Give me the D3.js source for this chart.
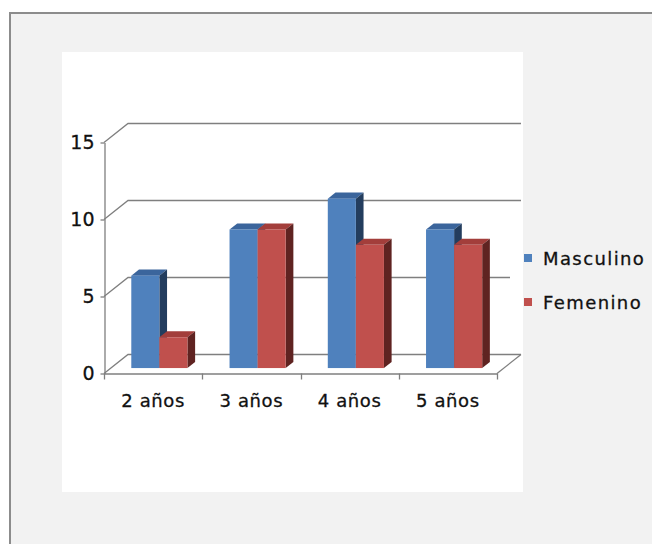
<!DOCTYPE html>
<html>
<head>
<meta charset="utf-8">
<script src="https://cdn.jsdelivr.net/npm/d3@7"></script>
<style>
  body { margin: 0; background: #fff; }
  text { font-family: "DejaVu Sans", Verdana, sans-serif; fill: #111; }
</style>
</head>
<body>
<div id="chart"></div>
<script>
let width = 652;
let height = 544;

// Data
let categories = ["2 años", "3 años", "4 años", "5 años"];
let seriesNames = ["Masculino", "Femenino"];
let masculino = [6, 9, 11, 9];
let femenino = [2, 9, 8, 8];
let yTicks = [0, 5, 10, 15];

let series = [masculino, femenino];

// Face colours for each series: front, top, side
let faces = [
    {front: "#4f81bd", top: "#3b659c", side: "#233d5e"},
    {front: "#c0504d", top: "#a33e3b", side: "#5f2321"}
];

let lineColor = "#7f7f7f";

// 3D depth of the floor (full) and position of bars inside it
let depth = {dx: 24, dy: -19};
let barDepth = {f0: 0.26, f1: 0.58};

let svg = d3.select("#chart")
    .append("svg")
    .attr("width", width)
    .attr("height", height);

// outer frame and white chart area
svg.append("rect")
    .attr("x", 10).attr("y", 13)
    .attr("width", width).attr("height", height)
    .attr("fill", "#f2f2f2")
    .attr("stroke", "#8c8c8c")
    .attr("stroke-width", 2);

svg.append("rect")
    .attr("x", 62).attr("y", 52)
    .attr("width", 461).attr("height", 440)
    .attr("fill", "#fff");

let xScale = d3.scaleBand()
    .domain(categories)
    .range([104, 497])
    .paddingInner(0)
    .paddingOuter(0);

let yScale = d3.scaleLinear()
    .domain([0, 15])
    .range([373, 142]);

let bw = xScale.bandwidth() / 3.5;
let gap = bw * 0.75;

let x0 = xScale.range()[0], x1 = xScale.range()[1];

// back wall gridlines and their diagonals to the front axis
let grid = svg.append("g").attr("stroke", lineColor).attr("stroke-width", 1.3).attr("fill", "none");

yTicks.forEach(function (t) {
    let y = Math.round(yScale(t)) + 0.5;
    grid.append("path")
        .attr("d", `M${x0},${y} L${x0 + depth.dx},${y + depth.dy} L${x1 + depth.dx},${y + depth.dy}`);
});

// right floor edge
grid.append("path")
    .attr("d", `M${x1},${Math.round(yScale(0)) + 0.5} L${x1 + depth.dx},${Math.round(yScale(0)) + 0.5 + depth.dy}`);

// white legend box hides the end of a gridline
svg.append("rect")
    .attr("x", 510).attr("y", 240)
    .attr("width", 13).attr("height", 80)
    .attr("fill", "#fff");

// bars
let ox = depth.dx * barDepth.f0, oy = depth.dy * barDepth.f0;
let ddx = depth.dx * (barDepth.f1 - barDepth.f0), ddy = depth.dy * (barDepth.f1 - barDepth.f0);

let bars = svg.append("g");

categories.forEach(function (c, i) {
    series.forEach(function (s, k) {
        let left = xScale(c) + gap + k * bw + ox;
        let right = left + bw;
        let top = yScale(s[i]) + oy;
        let bottom = yScale(0) + oy;
        let g = bars.append("g");
        g.append("path")
            .attr("d", `M${left},${top} L${left + ddx},${top + ddy} L${right + ddx},${top + ddy} L${right},${top} Z`)
            .attr("fill", faces[k].top);
        g.append("path")
            .attr("d", `M${right},${top} L${right + ddx},${top + ddy} L${right + ddx},${bottom + ddy} L${right},${bottom} Z`)
            .attr("fill", faces[k].side);
        g.append("rect")
            .attr("x", left).attr("y", top)
            .attr("width", bw).attr("height", bottom - top)
            .attr("fill", faces[k].front);
    });
});

// front axes
let yAxis = d3.axisLeft(yScale)
    .tickValues(yTicks)
    .tickSize(4)
    .tickPadding(6)
    .tickSizeOuter(0);

let yg = svg.append("g")
    .attr("transform", `translate(${x0 + 0.5},0.5)`)
    .call(yAxis);
yg.select(".domain").attr("stroke", lineColor).attr("stroke-width", 1.3);
yg.selectAll(".tick line").attr("stroke", lineColor).attr("stroke-width", 1.3);
yg.selectAll(".tick text")
    .attr("font-size", 19)
    .attr("font-family", "DejaVu Sans, sans-serif")
    .attr("fill", "#111")
    .attr("stroke", "#111")
    .attr("stroke-width", 0.3);

let xAxis = d3.axisBottom(xScale)
    .tickSize(0)
    .tickPadding(21)
    .tickSizeOuter(0);

let xg = svg.append("g")
    .attr("transform", `translate(0,${Math.round(yScale(0)) + 0.5})`)
    .call(xAxis);
xg.select(".domain").attr("stroke", lineColor).attr("stroke-width", 1.3);
xg.selectAll(".tick text")
    .attr("font-size", 18)
    .attr("letter-spacing", 0.6)
    .attr("font-family", "DejaVu Sans, sans-serif")
    .attr("fill", "#111")
    .attr("stroke", "#111")
    .attr("stroke-width", 0.3);

// x ticks sit on category boundaries
xg.selectAll(".bound")
    .data(categories.map(c => xScale(c)).concat([x1]))
    .enter().append("line")
    .attr("x1", d => Math.round(d) + 0.5).attr("x2", d => Math.round(d) + 0.5)
    .attr("y1", 0).attr("y2", 6)
    .attr("stroke", lineColor)
    .attr("stroke-width", 1.3);

// legend
let legend = svg.append("g");
seriesNames.forEach(function (name, k) {
    let ly = 254 + k * 44;
    legend.append("rect")
        .attr("x", 524).attr("y", ly)
        .attr("width", 8).attr("height", 8)
        .attr("fill", faces[k].front);
    legend.append("text")
        .attr("x", 543).attr("y", ly + 11)
        .attr("font-size", 18)
        .attr("letter-spacing", 1.4)
        .attr("stroke", "#111")
        .attr("stroke-width", 0.3)
        .text(name);
});
</script>
</body>
</html>
